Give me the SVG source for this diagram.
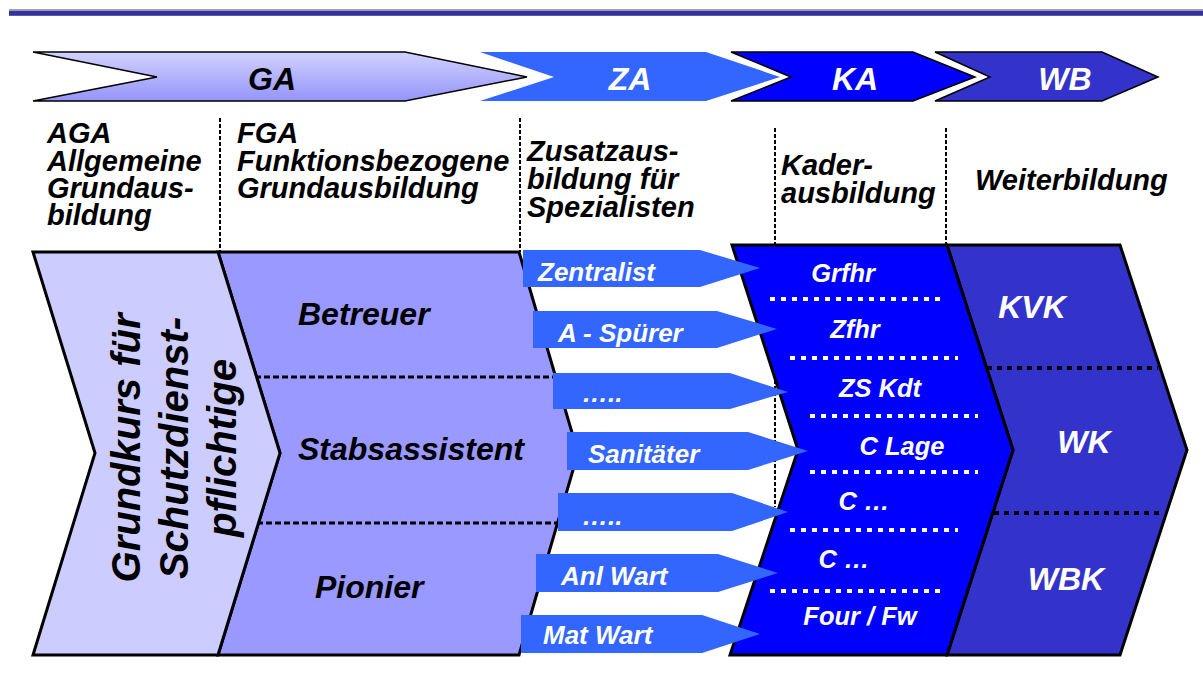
<svg xmlns="http://www.w3.org/2000/svg" width="1203" height="689" viewBox="0 0 1203 689">
<defs>
<linearGradient id="gaGrad" x1="0" y1="0" x2="0" y2="1">
<stop offset="0" stop-color="#d2d2ff"/>
<stop offset="1" stop-color="#9494fa"/>
</linearGradient>
</defs>
<style>
text{font-family:"Liberation Sans",Arial,sans-serif;font-weight:bold;font-style:italic}
.hdr{font-size:29px;fill:#000}
.top{font-size:32px;text-anchor:middle}
.blk{stroke:#000;stroke-width:3;stroke-linejoin:miter}
.halo{fill:none;stroke:#fff;stroke-width:6;stroke-linejoin:miter}
.vsep{stroke:#000;stroke-width:2;stroke-dasharray:4 2;fill:none}
.hdash{stroke:#000;stroke-width:3;stroke-dasharray:6 3;fill:none}
.wdot{stroke:#fff;stroke-width:4;stroke-dasharray:5 6;fill:none}
.bdot{stroke:#000;stroke-width:4;stroke-dasharray:5 5;fill:none}
.za{fill:#3366ff}
.zat{font-size:26px;fill:#fff}
.kat{font-size:25.5px;fill:#fff;text-anchor:middle}
.wbt{font-size:32px;fill:#fff;text-anchor:middle}
.mid{font-size:32px;fill:#000}
.vert{font-size:40px;fill:#000;text-anchor:middle}
</style>
<rect x="9" y="9" width="1194" height="1" fill="#a0a0a0"/>
<rect x="9" y="10.5" width="1194" height="5.3" fill="#333399"/>

<g id="topGA">
<polygon points="33,52 405,52 527,77 405,101 33,101 157,77" fill="url(#gaGrad)" stroke="#000" stroke-width="1.5"/>
<text class="top" x="272" y="90" fill="#000">GA</text>
</g>
<g id="topZA">
<polygon points="480,52 706,52 780,77 706,101 480,101 554,77" fill="#3366ff"/>
<text class="top" x="630" y="90" fill="#fff">ZA</text>
</g>
<g id="topKA">
<polygon class="halo" points="731,52 913,52 975,77 913,101 731,101 791,77"/>
<polygon points="731,52 913,52 975,77 913,101 731,101 791,77" fill="#0000ff" stroke="#000" stroke-width="1.5"/>
<text class="top" x="855" y="90" fill="#fff">KA</text>
</g>
<g id="topWB">
<polygon class="halo" points="935,52 1102,52 1158,77 1102,101 935,101 990,77"/>
<polygon points="935,52 1102,52 1158,77 1102,101 935,101 990,77" fill="#3333cc" stroke="#000" stroke-width="1.5"/>
<text class="top" x="1065" y="90" fill="#fff">WB</text>
</g>

<g id="headers">
<text class="hdr" x="47" y="143">AGA</text>
<text class="hdr" x="47" y="171">Allgemeine</text>
<text class="hdr" x="47" y="198">Grundaus-</text>
<text class="hdr" x="47" y="225">bildung</text>
<text class="hdr" x="237" y="143">FGA</text>
<text class="hdr" x="237" y="171">Funktionsbezogene</text>
<text class="hdr" x="237" y="198">Grundausbildung</text>
<text class="hdr" x="527" y="161">Zusatzaus-</text>
<text class="hdr" x="527" y="189">bildung für</text>
<text class="hdr" x="527" y="217">Spezialisten</text>
<text class="hdr" x="781" y="175">Kader-</text>
<text class="hdr" x="781" y="203">ausbildung</text>
<text class="hdr" x="975" y="190">Weiterbildung</text>
</g>

<g id="connectors">
<line class="vsep" x1="220" y1="118" x2="220" y2="252"/>
<line class="vsep" x1="520" y1="118" x2="520" y2="252"/>
<line class="vsep" x1="775" y1="128" x2="775" y2="507"/>
<line class="vsep" x1="946" y1="128" x2="946" y2="245"/>
</g>

<g id="FGA">
<polygon class="blk" points="218,252 519,252 578,453 519,655 218,655 280,453" fill="#9999ff"/>
<line class="hdash" x1="255" y1="377" x2="560" y2="377"/>
<line class="hdash" x1="257" y1="523" x2="562" y2="523"/>
<text class="mid" x="298" y="325">Betreuer</text>
<text class="mid" x="298" y="460">Stabsassistent</text>
<text class="mid" x="315" y="598">Pionier</text>
</g>

<g id="AGA">
<polygon class="blk" points="33,252 218,252 280,453 218,655 33,655 95,453" fill="#ccccff"/>
<text class="vert" transform="translate(140,448) rotate(-90)">Grundkurs für</text>
<text class="vert" transform="translate(188,448) rotate(-90)">Schutzdienst-</text>
<text class="vert" transform="translate(236,448) rotate(-90)">pflichtige</text>
</g>

<g id="WB">
<polygon class="blk" points="947,245 1120,245 1187,450 1120,655 947,655 1013,450" fill="#3333cc"/>
<line class="bdot" x1="987" y1="368" x2="1158" y2="368"/>
<line class="bdot" x1="994" y1="513" x2="1164" y2="513"/>
<text class="wbt" x="1032" y="318">KVK</text>
<text class="wbt" x="1084" y="453">WK</text>
<text class="wbt" x="1066" y="590">WBK</text>
</g>

<g id="KA">
<polygon class="blk" points="732,245 947,245 1013,450 947,655 730,655 798,450" fill="#0000ff"/>
<line class="wdot" x1="770" y1="299" x2="942" y2="299"/>
<line class="wdot" x1="790" y1="358" x2="958" y2="358"/>
<line class="wdot" x1="810" y1="416" x2="978" y2="416"/>
<line class="wdot" x1="810" y1="472" x2="978" y2="472"/>
<line class="wdot" x1="790" y1="530" x2="958" y2="530"/>
<line class="wdot" x1="770" y1="591" x2="942" y2="591"/>
<text class="kat" x="843" y="282">Grfhr</text>
<text class="kat" x="855" y="338">Zfhr</text>
<text class="kat" x="880" y="397">ZS Kdt</text>
<text class="kat" x="902" y="455">C Lage</text>
<text class="kat" x="864" y="510">C …</text>
<text class="kat" x="844" y="568">C …</text>
<text class="kat" x="860" y="625">Four / Fw</text>
</g>

<g id="ZA">
<g id="za-zentralist"><polygon class="za" points="523,250 700,250 760,268 700,287 523,287"/><text class="zat" x="538" y="281">Zentralist</text></g>
<g id="za-spuerer"><polygon class="za" points="533,311 717,311 777,329 717,348 533,348"/><text class="zat" x="558" y="342">A - Spürer</text></g>
<g id="za-dots1"><polygon class="za" points="553,373 730,373 788,392 730,409 553,409"/><text class="zat" x="582" y="402">…..</text></g>
<g id="za-sanitaeter"><polygon class="za" points="567,432 748,432 808,451 748,470 567,470"/><text class="zat" x="588" y="463">Sanitäter</text></g>
<g id="za-dots2"><polygon class="za" points="558,493 732,493 788,512 732,531 558,531"/><text class="zat" x="582" y="525">…..</text></g>
<g id="za-anlwart"><polygon class="za" points="536,554 718,554 778,573 718,592 536,592"/><text class="zat" x="561" y="585">Anl Wart</text></g>
<g id="za-matwart"><polygon class="za" points="521,615 702,615 760,634 702,653 521,653"/><text class="zat" x="543" y="644">Mat Wart</text></g>
</g>
</svg>
